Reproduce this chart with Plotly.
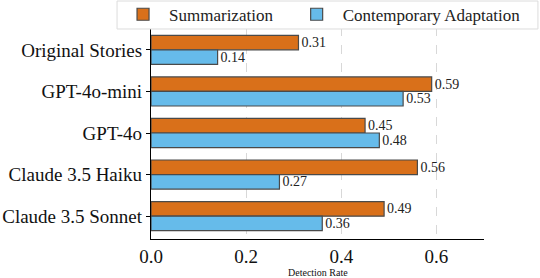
import plotly.graph_objects as go

categories = ["Original Stories", "GPT-4o-mini", "GPT-4o", "Claude 3.5 Haiku", "Claude 3.5 Sonnet"]
summarization = [0.31, 0.59, 0.45, 0.56, 0.49]
contemporary = [0.14, 0.53, 0.48, 0.27, 0.36]
series_names = ["Summarization", "Contemporary Adaptation"]
x_ticks = [0.0, 0.2, 0.4, 0.6]
x_tick_labels = ["0.0", "0.2", "0.4", "0.6"]

FONT = "Liberation Serif"
ORANGE = "#D9701A"
BLUE = "#66BBEA"
NBSP = "\u00a0"

fig = go.Figure()
fig.add_trace(go.Bar(
    y=categories, x=summarization, orientation="h", name=series_names[0] + NBSP * 3,
    marker=dict(color=ORANGE, line=dict(color="#4a4a4a", width=1.2)),
    text=[f"{v:.2f}" for v in summarization], textposition="outside",
    textfont=dict(family=FONT, size=14, color="#222"), constraintext="none",
    cliponaxis=False,
))
fig.add_trace(go.Bar(
    y=categories, x=contemporary, orientation="h", name=series_names[1],
    marker=dict(color=BLUE, line=dict(color="#4a4a4a", width=1.2)),
    text=[f"{v:.2f}" for v in contemporary], textposition="outside",
    textfont=dict(family=FONT, size=14, color="#222"), constraintext="none",
    cliponaxis=False,
))

fig.update_layout(
    width=540, height=278,
    margin=dict(l=151, r=56, t=27, b=39, autoexpand=False),
    barmode="group", bargap=0.3, bargroupgap=0,
    plot_bgcolor="white", paper_bgcolor="white",
    font=dict(family=FONT, color="#111"),
    showlegend=True,
    legend=dict(
        orientation="h", xref="paper", yref="paper",
        x=-0.102, xanchor="left", y=1.143, yanchor="top",
        font=dict(family=FONT, size=17, color="#222"),
        borderwidth=0, bgcolor="rgba(255,255,255,0)",
        itemwidth=42, tracegroupgap=0,
    ),
    shapes=[dict(
        type="rect", xref="paper", yref="paper",
        x0=-0.102, x1=1.162, y0=0.9906, y1=1.1226,
        line=dict(color="#dcdcdc", width=1), fillcolor="white", layer="above",
    )],
    xaxis=dict(
        range=[0, 0.7], tickvals=x_ticks, ticktext=x_tick_labels,
        showgrid=True, gridcolor="#d8d8d8", griddash="dash", gridwidth=1,
        showline=True, linecolor="black", linewidth=1.2,
        ticks="", tickfont=dict(family=FONT, size=19, color="#111"),
        zeroline=False,
    ),
    yaxis=dict(
        range=[4.55, -0.55], type="category",
        showgrid=False, showline=True, linecolor="black", linewidth=1.2,
        ticks="outside", ticklen=4, tickcolor="black",
        tickfont=dict(family=FONT, size=19, color="#111"),
    ),
    annotations=[dict(
        text="Detection Rate", xref="paper", yref="paper",
        x=0.5, y=-0.156, xanchor="center", yanchor="middle", showarrow=False,
        font=dict(family=FONT, size=10, color="#111"),
    )],
)

fig.write_html(
    "out.html",
    config={"displayModeBar": False},
    post_script="document.body.style.margin='0';document.body.style.padding='0';",
)
